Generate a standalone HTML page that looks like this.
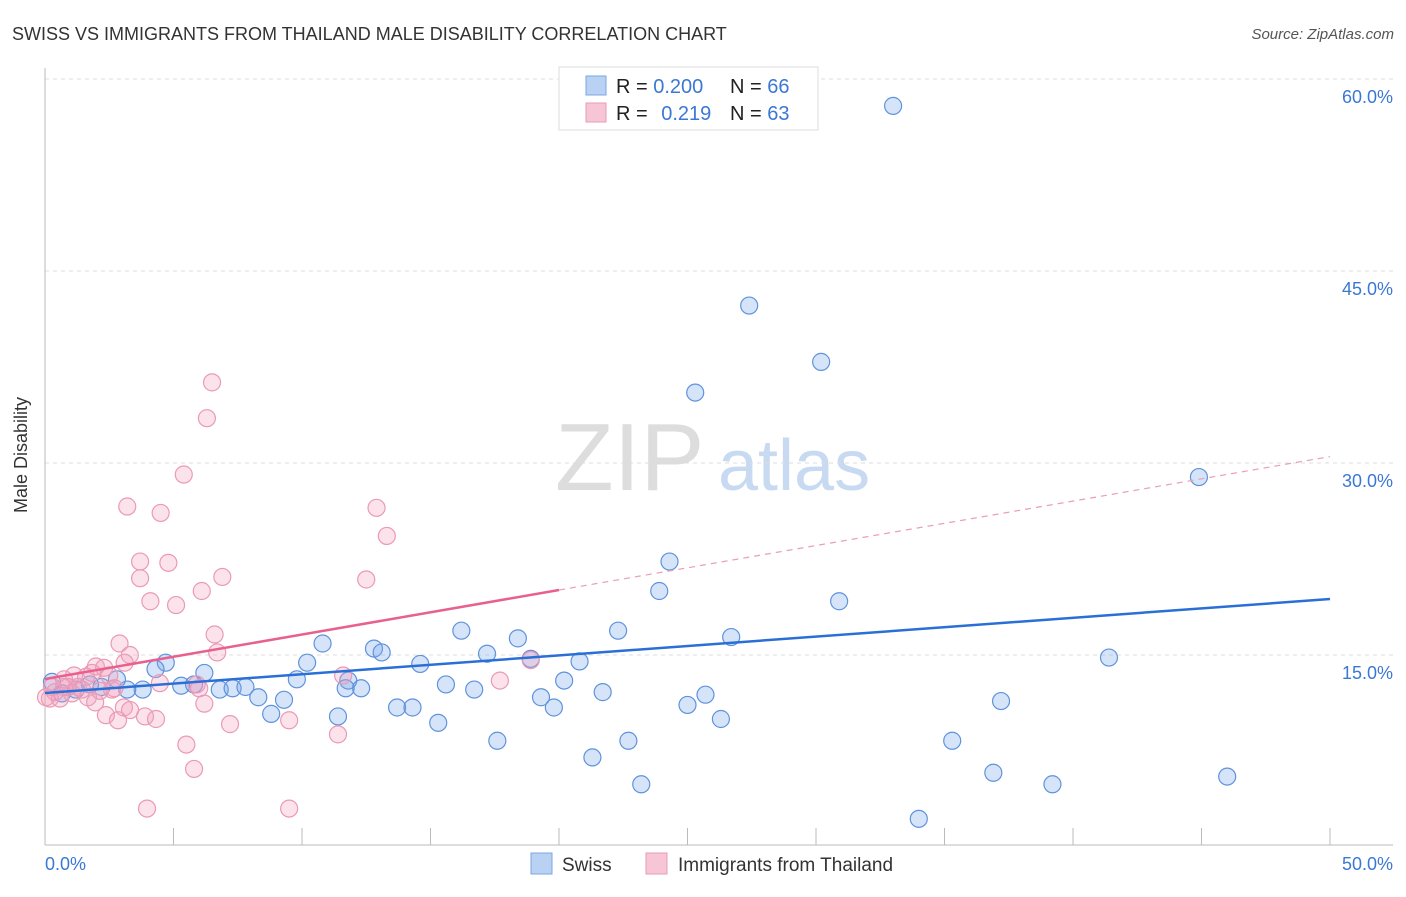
<!DOCTYPE html>
<html><head><meta charset="utf-8"><style>
body{margin:0;background:#fff;font-family:"Liberation Sans",sans-serif;}
svg text{font-family:"Liberation Sans",sans-serif;}
</style></head><body>
<svg id="chart" width="1406" height="892" xmlns="http://www.w3.org/2000/svg">
<text x="12" y="40" font-size="18" fill="#333">SWISS VS IMMIGRANTS FROM THAILAND MALE DISABILITY CORRELATION CHART</text>
<text x="1394" y="39" font-size="15" fill="#555" font-style="italic" text-anchor="end">Source: ZipAtlas.com</text>
<g>
<text x="555" y="490" font-size="96" fill="#ddd" font-family="Liberation Serif">ZIP</text>
<text x="718" y="490" font-size="72" fill="#c8daf2">atlas</text>
</g>
<g id="grid"></g>
<g id="axes"></g>
<g id="pts"></g>
<g id="trends"></g>
<text x="27" y="455" font-size="18" fill="#333" text-anchor="middle" transform="rotate(-90 27 455)">Male Disability</text>
<g>
<rect x="559" y="67" width="259" height="63" fill="#fff" stroke="#ddd"/>
<rect x="586" y="76" width="20" height="19" fill="#b9d2f3" stroke="#7aa7e3"/>
<rect x="586" y="103" width="20" height="19" fill="#f7c6d6" stroke="#eb9ab5"/>
<text x="616" y="93" font-size="20" fill="#222">R = <tspan fill="#3b78d4">0.200</tspan></text>
<text x="730" y="93" font-size="20" fill="#222">N = <tspan fill="#3b78d4">66</tspan></text>
<text x="616" y="120" font-size="20" fill="#222">R = <tspan fill="#3b78d4" dx="8">0.219</tspan></text>
<text x="730" y="120" font-size="20" fill="#222">N = <tspan fill="#3b78d4">63</tspan></text>
</g>
<g>
<rect x="531" y="853" width="21" height="21" fill="#b9d2f3" stroke="#7aa7e3"/>
<text x="562" y="871" font-size="19" fill="#333">Swiss</text>
<rect x="646" y="853" width="21" height="21" fill="#f7c6d6" stroke="#eb9ab5"/>
<text x="678" y="871" font-size="19" fill="#333">Immigrants from Thailand</text>
</g>
</svg>
<script>
const yTicks=[15,30,45,60];
const yTickLabels=["15.0%","30.0%","45.0%","60.0%"];
const xTickLabels=["0.0%","50.0%"];
const swissX=[33.0,27.4,30.2,25.3,44.9,24.3,23.9,30.9,16.2,10.8,18.4,22.3,26.7,12.8,13.1,17.2,10.2,4.7,4.3,6.2,14.6,18.9,20.8,41.4,9.8,20.2,15.6,5.3,5.8,6.8,7.3,7.8,11.8,11.7,12.3,3.8,3.2,2.8,2.2,1.75,1.2,0.66,0.27,8.3,9.3,16.7,19.3,21.7,25.7,13.7,14.3,19.8,25.0,37.2,8.8,11.4,15.3,26.3,17.6,22.7,35.3,21.3,36.9,39.2,23.2,46.0,34.0];
const swissY=[57.9,42.3,37.9,35.5,28.9,22.3,20.0,19.2,16.9,15.9,16.3,16.9,16.4,15.5,15.2,15.1,14.4,14.4,13.9,13.6,14.3,14.7,14.5,14.8,13.1,13.0,12.7,12.6,12.7,12.3,12.4,12.5,13.0,12.4,12.4,12.3,12.3,13.1,12.5,12.7,12.3,12.0,12.9,11.7,11.5,12.3,11.7,12.1,11.9,10.9,10.9,10.9,11.1,11.4,10.4,10.2,9.7,10.0,8.3,8.3,8.3,7.0,5.8,4.9,4.9,5.5,2.2];
const thaiX=[6.5,6.3,5.4,3.2,12.9,4.5,13.3,3.7,4.8,3.7,6.9,12.5,6.1,4.1,5.1,6.6,2.9,6.7,3.3,3.1,1.98,2.3,2.5,1.6,1.13,0.74,1.28,0.74,0.39,0.19,0.04,0.58,1.67,1.95,2.7,3.07,3.31,2.37,2.84,3.89,4.32,11.6,17.7,18.9,4.47,6.0,5.9,6.2,7.2,9.5,11.4,5.5,5.8,3.97,9.5,1.05,1.44,2.14,2.61,0.27,0.89,1.83];
const thaiY=[36.3,33.5,29.1,26.6,26.5,26.1,24.3,22.3,22.2,21.0,21.1,20.9,20.0,19.2,18.9,16.6,15.9,15.2,15.0,14.4,14.1,14.0,13.4,13.3,13.4,13.1,12.5,12.5,12.1,11.6,11.7,11.6,11.7,11.3,12.4,10.9,10.7,10.3,9.9,10.2,10.0,13.4,13.0,14.6,12.8,12.4,12.7,11.2,9.6,9.9,8.8,8.0,6.1,3.0,3.0,12.0,12.3,12.2,12.3,12.5,12.5,13.6];
const swissTrend=[12.03,19.375];
const thaiTrend=[13.125,30.5];
const NS="http://www.w3.org/2000/svg";
const X=v=>45+v/50*1285, Y=v=>847-v*12.8;
function mk(t,a,p){const e=document.createElementNS(NS,t);for(const k in a)e.setAttribute(k,a[k]);p.appendChild(e);return e;}
const grid=document.getElementById('grid'),axes=document.getElementById('axes'),pts=document.getElementById('pts'),tr=document.getElementById('trends');
yTicks.forEach((v,i)=>{
 const l=mk('line',{x1:45,x2:1393,y1:Y(v),y2:Y(v),stroke:'#ddd','stroke-dasharray':'4,4'},grid);
 
 
 const t=mk('text',{x:1393,y:Y(v)+24,'font-size':18,fill:'#3b78d4','text-anchor':'end'},axes);
 t.textContent=yTickLabels[i];
 
 
});
const al=mk('line',{x1:45,x2:45,y1:68,y2:845,stroke:'#bbb'},axes);


const bl=mk('line',{x1:45,x2:1393,y1:845,y2:845,stroke:'#bbb'},axes);


for(let i=0;i<=10;i++){const tk=mk('line',{x1:X(i*5),x2:X(i*5),y1:828,y2:845,stroke:'#bbb'},axes);
 
 }
[[0,45,'start'],[1,1393,'end']].forEach(([i,x,a])=>{const t=mk('text',{x:x,y:870,'font-size':18,fill:'#3b78d4','text-anchor':a},axes);t.textContent=xTickLabels[i];
 
 });
swissX.forEach((x,i)=>{const c=mk('circle',{cx:X(x),cy:Y(swissY[i]),r:8.5,fill:'rgba(120,165,235,0.3)',stroke:'#5f93dc','stroke-width':1.2},pts);
 
 });
thaiX.forEach((x,i)=>{const c=mk('circle',{cx:X(x),cy:Y(thaiY[i]),r:8.5,fill:'rgba(242,160,188,0.3)',stroke:'#ea9ab6','stroke-width':1.2},pts);
 
 });
const bt=mk('line',{x1:X(0),y1:Y(swissTrend[0]),x2:X(50),y2:Y(swissTrend[1]),stroke:'#2a6fd6','stroke-width':2.5},tr);


const tm=thaiTrend[0]+(thaiTrend[1]-thaiTrend[0])*0.4;
const pt=mk('line',{x1:X(0),y1:Y(thaiTrend[0]),x2:X(20),y2:Y(tm),stroke:'#e8608e','stroke-width':2.5},tr);


const pd=mk('line',{x1:X(20),y1:Y(tm),x2:X(50),y2:Y(thaiTrend[1]),stroke:'#e8a0ba','stroke-width':1.2,'stroke-dasharray':'6,5'},tr);


</script>
</body></html>
